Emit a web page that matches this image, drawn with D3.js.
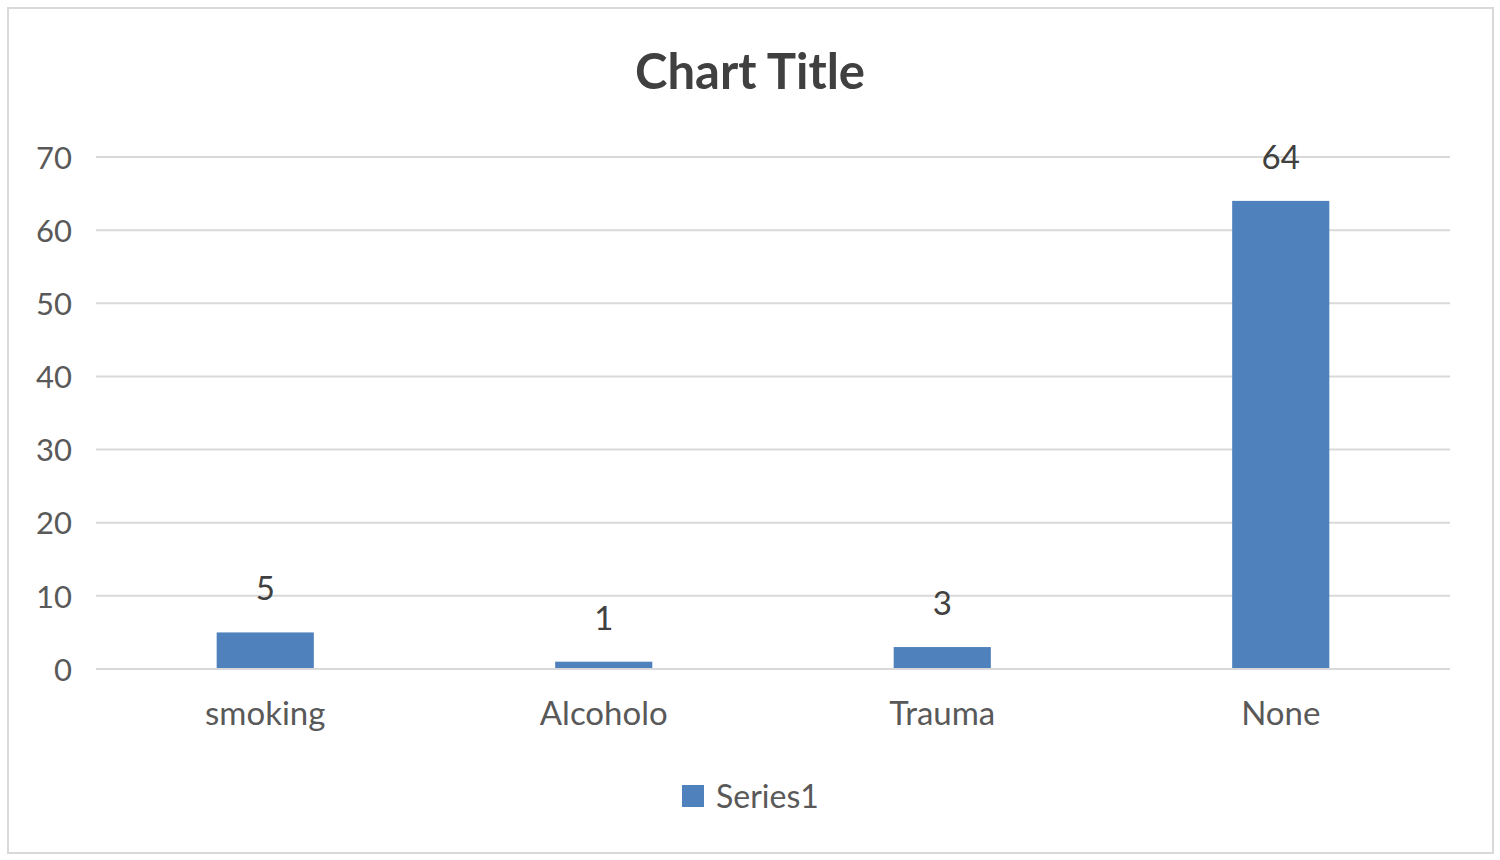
<!DOCTYPE html>
<html>
<head>
<meta charset="utf-8">
<script src="https://cdn.jsdelivr.net/npm/d3@7"></script>
<style>
  body { margin: 0; background: #fff; }
  svg text { font-family: Lato, "Open Sans", sans-serif; }
</style>
</head>
<body>
<svg id="chart" width="1500" height="860"></svg>
<script>
// chart data
const categories = ['smoking', 'Alcoholo', 'Trauma', 'None'];
const values = [5, 1, 3, 64];
const yTicks = [0, 10, 20, 30, 40, 50, 60, 70];
const seriesName = 'Series1';

const svg = d3.select('#chart');

// outer frame
svg.append('rect')
  .attr('x', 8).attr('y', 8)
  .attr('width', 1485).attr('height', 845)
  .attr('fill', '#fff')
  .attr('stroke', '#d9d9d9')
  .attr('stroke-width', 2);

// title
svg.append('text')
  .attr('x', 750).attr('y', 89)
  .attr('text-anchor', 'middle')
  .attr('font-size', 49)
  .attr('font-weight', 'bold')
  .attr('fill', '#404040')
  .text('Chart Title');

const x = d3.scaleBand()
  .domain(categories)
  .range([96, 1450])
  .paddingInner(0.713)
  .paddingOuter(0.3565);

const y = d3.scaleLinear()
  .domain([0, 70])
  .range([669, 157]);

// gridlines
svg.append('g')
  .selectAll('line')
  .data(yTicks)
  .join('line')
  .attr('x1', 96).attr('x2', 1450)
  .attr('y1', d => y(d)).attr('y2', d => y(d))
  .attr('stroke', '#d9d9d9')
  .attr('stroke-width', 2);

// y axis labels
const yAxis = svg.append('g')
  .attr('transform', 'translate(72,0)')
  .call(d3.axisLeft(y).tickValues(yTicks).tickSize(0).tickPadding(0));
yAxis.select('.domain').remove();
yAxis.selectAll('text')
  .attr('font-size', 31)
  .attr('fill', '#595959')
  .attr('dy', '0.36em');

// x axis labels
const xAxis = svg.append('g')
  .attr('transform', 'translate(0,669)')
  .call(d3.axisBottom(x).tickSize(0).tickPadding(0));
xAxis.select('.domain').remove();
xAxis.selectAll('text')
  .attr('font-size', 33)
  .attr('fill', '#595959')
  .attr('y', 56)
  .attr('dy', 0);

// bars
svg.append('g')
  .selectAll('rect')
  .data(values)
  .join('rect')
  .attr('x', (d, i) => x(categories[i]))
  .attr('y', d => y(d))
  .attr('width', x.bandwidth())
  .attr('height', d => y(0) - y(d))
  .attr('fill', '#4f81bd');

// baseline over bars
svg.append('line')
  .attr('x1', 96).attr('x2', 1450)
  .attr('y1', y(0)).attr('y2', y(0))
  .attr('stroke', '#d9d9d9')
  .attr('stroke-width', 2);

// data labels
svg.append('g')
  .selectAll('text')
  .data(values)
  .join('text')
  .attr('x', (d, i) => x(categories[i]) + x.bandwidth() / 2)
  .attr('y', d => y(d) - 32)
  .attr('text-anchor', 'middle')
  .attr('font-size', 33)
  .attr('fill', '#404040')
  .text(d => d);

// legend
const legend = svg.append('g');
legend.append('rect')
  .attr('x', 682).attr('y', 785)
  .attr('width', 22).attr('height', 22)
  .attr('fill', '#4f81bd');
legend.append('text')
  .attr('x', 716).attr('y', 808)
  .attr('font-size', 32)
  .attr('fill', '#595959')
  .text(seriesName);
</script>
</body>
</html>
